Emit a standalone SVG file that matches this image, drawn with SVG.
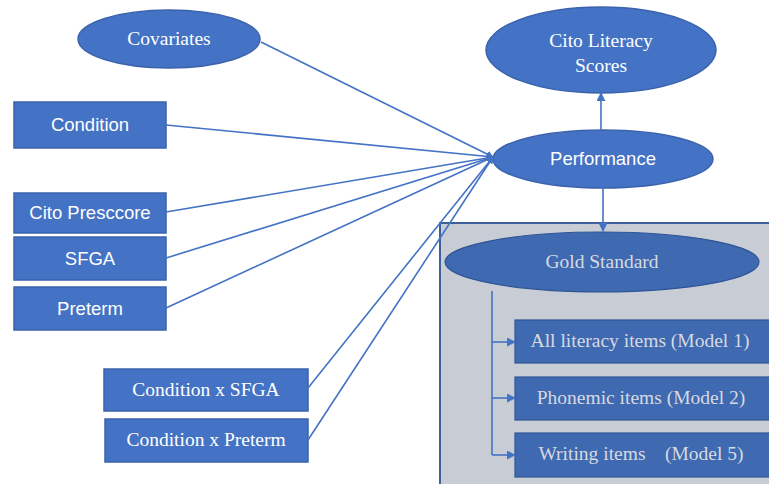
<svg xmlns="http://www.w3.org/2000/svg" width="769" height="484" viewBox="0 0 769 484">
<defs>
<marker id="ah" viewBox="0 0 10 10" refX="9" refY="5" markerWidth="7" markerHeight="7" markerUnits="userSpaceOnUse" orient="auto">
<path d="M0,0 L10,5 L0,10 z" fill="#4472c4"/>
</marker>
<marker id="ah2" viewBox="0 0 10 10" refX="9" refY="5" markerWidth="9" markerHeight="9" markerUnits="userSpaceOnUse" orient="auto">
<path d="M0,0 L10,5 L0,10 z" fill="#4472c4"/>
</marker>
</defs>
<style>
.n{fill:#4472c4;stroke:#3b63ad;stroke-width:1.5}
.d{fill:#3f69b0;stroke:#2f5597;stroke-width:1.2}
.sans{font-family:"Liberation Sans",Arial,sans-serif;font-size:18.5px;fill:#ffffff;text-anchor:middle}
.serif{font-family:"Liberation Serif","Times New Roman",serif;font-size:19.5px;fill:#ffffff;text-anchor:middle}
.gs{font-family:"Liberation Serif","Times New Roman",serif;font-size:19.5px;fill:#d6dae2;text-anchor:middle}
.c{stroke:#4472c4;stroke-width:1.6;fill:none}
</style>
<rect width="769" height="484" fill="#ffffff"/>
<rect id="panel" x="440" y="223" width="340" height="275" fill="#c8ccd4" stroke="#3e5f99" stroke-width="2"/>
<g id="covariates"><ellipse class="n" cx="169" cy="39" rx="91" ry="29"/><text class="serif" x="169" y="45">Covariates</text></g>
<g id="condition"><rect class="n" x="14" y="102" width="152" height="46"/><text class="sans" x="90" y="131">Condition</text></g>
<g id="cito-prescore"><rect class="n" x="14" y="193" width="152" height="40"/><text class="sans" x="90" y="219">Cito Presccore</text></g>
<g id="sfga"><rect class="n" x="14" y="237" width="152" height="43"/><text class="sans" x="90" y="265">SFGA</text></g>
<g id="preterm"><rect class="n" x="14" y="287" width="152" height="43"/><text class="sans" x="90" y="315">Preterm</text></g>
<g id="cond-sfga"><rect class="n" x="104" y="369" width="204" height="42"/><text class="serif" x="206" y="396">Condition x SFGA</text></g>
<g id="cond-preterm"><rect class="n" x="105" y="419" width="203" height="43"/><text class="serif" x="206" y="446">Condition x Preterm</text></g>
<g id="cito-literacy"><ellipse class="n" cx="601" cy="50" rx="115" ry="43"/><text class="serif" x="601" y="47">Cito Literacy</text><text class="serif" x="601" y="72">Scores</text></g>
<g id="performance"><ellipse class="n" cx="603" cy="159" rx="110" ry="29"/><text class="sans" x="603" y="165">Performance</text></g>
<g id="gold-standard"><ellipse cx="602" cy="262" rx="157" ry="30" fill="#3f69b0" stroke="#2f5597" stroke-width="1.2"/><text class="gs" x="602" y="268">Gold Standard</text></g>
<g id="model1"><rect class="d" x="515" y="320" width="260" height="43"/><text class="gs" x="640" y="347">All literacy items (Model 1)</text></g>
<g id="model2"><rect class="d" x="515" y="377" width="260" height="43"/><text class="gs" x="641" y="404">Phonemic items (Model 2)</text></g>
<g id="model5"><rect class="d" x="515" y="433" width="260" height="44"/><text class="gs" x="641" y="460" xml:space="preserve">Writing items    (Model 5)</text></g>
<g id="connectors">
<line class="c" x1="261" y1="42" x2="493" y2="157" marker-end="url(#ah)"/>
<line class="c" x1="166" y1="125" x2="493" y2="157" marker-end="url(#ah)"/>
<line class="c" x1="166" y1="212" x2="493" y2="157" marker-end="url(#ah)"/>
<line class="c" x1="166" y1="258" x2="493" y2="157" marker-end="url(#ah)"/>
<line class="c" x1="166" y1="308" x2="493" y2="157" marker-end="url(#ah)"/>
<line class="c" x1="308" y1="388" x2="493" y2="157" marker-end="url(#ah)"/>
<line class="c" x1="308" y1="440" x2="493" y2="157" marker-end="url(#ah)"/>
<line class="c" x1="601" y1="130" x2="601" y2="93" marker-end="url(#ah2)"/>
<line class="c" x1="603" y1="188" x2="603" y2="231" marker-end="url(#ah2)"/>
<polyline class="c" points="492,291 492,455"/>
<line class="c" x1="492" y1="342" x2="515" y2="342" marker-end="url(#ah2)"/>
<line class="c" x1="492" y1="398" x2="515" y2="398" marker-end="url(#ah2)"/>
<line class="c" x1="492" y1="455" x2="515" y2="455" marker-end="url(#ah2)"/>
</g>
</svg>
